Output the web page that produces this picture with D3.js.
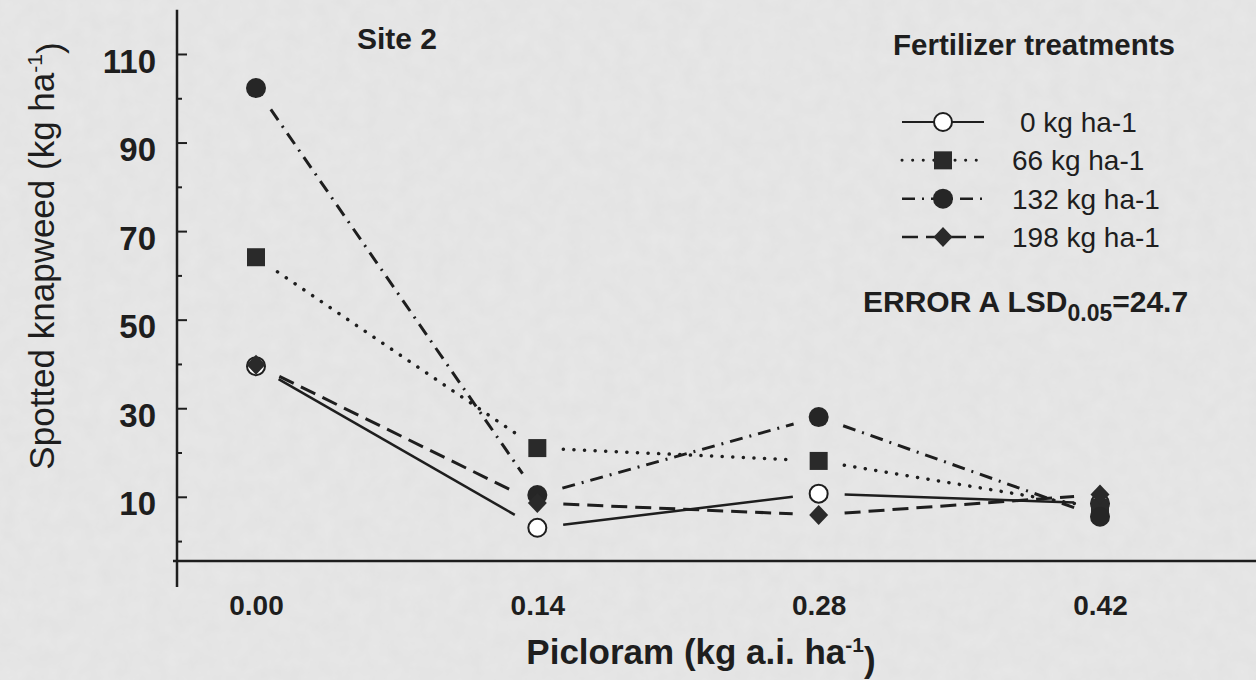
<!DOCTYPE html>
<html>
<head>
<meta charset="utf-8">
<title>Site 2 - Spotted knapweed</title>
<script src="https://cdn.jsdelivr.net/npm/d3@7"></script>
<style>
    body { margin: 0; background: #e6e6e6; }
    svg { display: block; font-family: "Liberation Sans", Arial, sans-serif; }
</style>
</head>
<body>
<svg id="chart" width="1256" height="680"></svg>
<script>
    // picloram rates (x) and spotted knapweed biomass per fertilizer rate
    const doses = [0, 0.14, 0.28, 0.42];
    const seriesNames = ["0 kg ha-1", "66 kg ha-1", "132 kg ha-1", "198 kg ha-1"];
    const kg0 = [39.5, 3.0, 10.7, 8.5];
    const kg66 = [64.1, 21.0, 18.1, 7.5];
    const kg132 = [102.3, 10.4, 28.0, 5.5];
    const kg198 = [39.8, 8.6, 5.9, 10.5];
    const yMajor = [10, 30, 50, 70, 90, 110];
    const yMinor = [0, 20, 40, 60, 80, 100];

    const series = [
        { name: seriesNames[0], values: kg0, symbol: "open", dash: null, width: 2.5, cap: "butt" },
        { name: seriesNames[1], values: kg66, symbol: "square", dash: "0.1 10.5", width: 3.5, cap: "round" },
        { name: seriesNames[2], values: kg132, symbol: "circle", dash: "13 7 2 7", width: 3, cap: "butt" },
        { name: seriesNames[3], values: kg198, symbol: "diamond", dash: "16 8", width: 3, cap: "butt" }
    ];

    const svg = d3.select("#chart");
    const ink = "#1e1e1e";

    // scanned paper look
    const defs = svg.append("defs");
    const f = defs.append("filter").attr("id", "paper").attr("x", 0).attr("y", 0).attr("width", "100%").attr("height", "100%");
    f.append("feTurbulence").attr("type", "fractalNoise").attr("baseFrequency", 0.06).attr("numOctaves", 3).attr("seed", 4);
    f.append("feColorMatrix").attr("type", "matrix")
        .attr("values", "0 0 0 0 0.5  0 0 0 0 0.5  0 0 0 0 0.5  0 0 0 0.14 0");
    svg.append("rect").attr("width", 1256).attr("height", 680).attr("fill", "#e8e8e8");
    svg.append("rect").attr("width", 1256).attr("height", 680).attr("filter", "url(#paper)");

    const x = d3.scaleLinear().domain([0, 0.42]).range([256, 1100]);
    const y = d3.scaleLinear().domain([-4.5, 120]).range([561, 9.7]);

    // axes
    svg.append("line").attr("x1", 177).attr("x2", 177)
        .attr("y1", y(120)).attr("y2", y(-4.5) + 26)
        .attr("stroke", ink).attr("stroke-width", 2.5);
    svg.append("line").attr("x1", 173).attr("x2", 1256)
        .attr("y1", y(-4.5)).attr("y2", y(-4.5))
        .attr("stroke", ink).attr("stroke-width", 2.5);

    const yAxisMajor = svg.append("g").attr("transform", "translate(177,0)")
        .call(d3.axisLeft(y).tickValues(yMajor).tickSize(-10).tickPadding(21).tickFormat(d3.format("d")));
    const yAxisMinor = svg.append("g").attr("transform", "translate(177,0)")
        .call(d3.axisLeft(y).tickValues(yMinor).tickSize(-5).tickFormat(""));
    [yAxisMajor, yAxisMinor].forEach(g => {
        g.select(".domain").remove();
        g.selectAll("line").attr("stroke", ink).attr("stroke-width", 2);
    });
    yAxisMajor.selectAll("text")
        .attr("dy", "0.55em")
        .attr("fill", ink)
        .style("font-size", "33px")
        .style("font-weight", "bold");

    const xAxis = svg.append("g").attr("transform", `translate(0,${y(-4.5)})`)
        .call(d3.axisBottom(x).tickValues(doses).tickSize(0).tickFormat(d3.format(".2f")));
    xAxis.select(".domain").remove();
    xAxis.selectAll("text")
        .attr("y", 54).attr("dy", 0)
        .attr("fill", ink)
        .style("font-size", "28px")
        .style("font-weight", "bold");

    // axis titles
    const yt = svg.append("text")
        .attr("transform", "translate(54,256) rotate(-90)")
        .attr("text-anchor", "middle")
        .attr("fill", ink)
        .style("font-size", "35px");
    yt.append("tspan").text("Spotted knapweed (kg ha");
    yt.append("tspan").attr("dy", "-0.55em").style("font-size", "21px").text("-1");
    yt.append("tspan").attr("dy", "0.55em").text(")");

    const xt = svg.append("text")
        .attr("x", 701).attr("y", 664)
        .attr("text-anchor", "middle")
        .attr("fill", ink)
        .style("font-size", "35px")
        .style("font-weight", "bold");
    xt.append("tspan").text("Picloram (kg a.i. ha");
    xt.append("tspan").attr("dy", "-0.55em").style("font-size", "21px").text("-1");
    xt.append("tspan").attr("dy", "0.55em").text(")");

    svg.append("text").attr("x", 357).attr("y", 49)
        .attr("fill", ink)
        .style("font-size", "30px").style("font-weight", "bold")
        .text("Site 2");

    // markers
    function drawSymbol(g, kind, cx, cy) {
        if (kind === "open") {
            g.append("circle").attr("cx", cx).attr("cy", cy).attr("r", 9)
                .attr("fill", "#fff").attr("stroke", ink).attr("stroke-width", 2);
        } else if (kind === "circle") {
            g.append("circle").attr("cx", cx).attr("cy", cy).attr("r", 10).attr("fill", "#262626");
        } else if (kind === "square") {
            g.append("rect").attr("x", cx - 9).attr("y", cy - 9).attr("width", 18).attr("height", 18)
                .attr("fill", "#2a2a2a");
        } else {
            g.append("path").attr("d", `M${cx},${cy - 10}L${cx + 9.5},${cy}L${cx},${cy + 10}L${cx - 9.5},${cy}Z`)
                .attr("fill", "#2a2a2a");
        }
    }

    // lines, with a gap left round each marker
    const gap = 26;
    const plot = svg.append("g");
    series.forEach(s => {
        const pts = doses.map((d, i) => [x(d), y(s.values[i])]);
        d3.pairs(pts).forEach(([a, b]) => {
            const len = Math.hypot(b[0] - a[0], b[1] - a[1]);
            const ux = (b[0] - a[0]) / len, uy = (b[1] - a[1]) / len;
            plot.append("line")
                .attr("x1", a[0] + ux * gap).attr("y1", a[1] + uy * gap)
                .attr("x2", b[0] - ux * gap).attr("y2", b[1] - uy * gap)
                .attr("stroke", ink)
                .attr("stroke-width", s.width)
                .attr("stroke-linecap", s.cap)
                .attr("stroke-dasharray", s.dash);
        });
    });
    series.forEach(s => {
        doses.forEach((d, i) => drawSymbol(plot, s.symbol, x(d), y(s.values[i])));
    });

    // legend
    const legend = svg.append("g");
    legend.append("text").attr("x", 893).attr("y", 55)
        .attr("fill", ink)
        .style("font-size", "29.5px").style("font-weight", "bold")
        .text("Fertilizer treatments");
    const rowY = d3.scaleLinear().domain([0, 3]).range([122, 237]);
    series.forEach((s, i) => {
        const ly = rowY(i);
        legend.append("line").attr("x1", 902).attr("x2", 984).attr("y1", ly).attr("y2", ly)
            .attr("stroke", ink).attr("stroke-width", s.width * 0.85)
            .attr("stroke-linecap", s.cap)
            .attr("stroke-dasharray", s.dash);
        drawSymbol(legend, s.symbol, 943, ly);
        legend.append("text").attr("x", i === 0 ? 1020 : 1012).attr("y", ly).attr("dy", "0.36em")
            .attr("fill", ink)
            .style("font-size", "28px")
            .text(s.name);
    });

    const lsd = svg.append("text").attr("x", 863).attr("y", 312)
        .attr("fill", ink)
        .style("font-size", "30px").style("font-weight", "bold");
    lsd.append("tspan").text("ERROR A LSD");
    lsd.append("tspan").attr("dy", 9).style("font-size", "23px").text("0.05");
    lsd.append("tspan").attr("dy", -9).text("=24.7");
</script>
</body>
</html>
